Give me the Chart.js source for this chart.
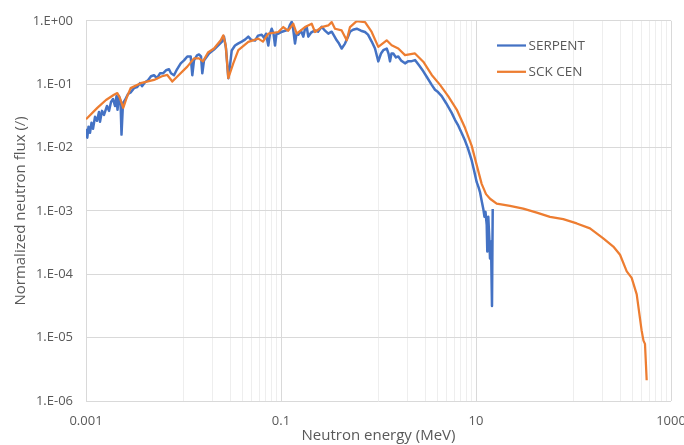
<!DOCTYPE html>
<html>
<head>
<meta charset="utf-8">
<title>Neutron flux spectrum</title>
<script src="https://cdn.jsdelivr.net/npm/chart.js@4.4.1/dist/chart.umd.min.js"></script>
<style>
  html, body { margin: 0; padding: 0; background: #ffffff; overflow: hidden; }
  #wrap { position: relative; width: 684px; height: 445px; }
</style>
</head>
<body>
<div id="wrap"><canvas id="chart" width="684" height="445"></canvas></div>
<script>
// Neutron energy (MeV) and normalized flux for each code
const serpentEnergy = [
  0.001, 0.001031, 0.001061, 0.001099, 0.001139, 0.00118, 0.001237, 0.001297, 0.001359, 0.001392,
  0.001459, 0.00153, 0.001642, 0.001722, 0.001805, 0.001892, 0.001984, 0.002055, 0.002104, 0.00218,
  0.002259, 0.002313, 0.002396, 0.002512, 0.002697, 0.002894, 0.003107, 0.003336, 0.00358, 0.003753,
  0.004029, 0.004325, 0.004642, 0.004983, 0.005349, 0.005741, 0.006163, 0.006614, 0.0071, 0.00744,
  0.00799, 0.00858, 0.00936, 0.01012, 0.01094, 0.01185, 0.01231, 0.01281, 0.01375, 0.01442,
  0.01512, 0.01559, 0.01623, 0.01826, 0.02055, 0.02259, 0.02483, 0.02603, 0.02729, 0.02881,
  0.03, 0.03122, 0.03375, 0.03622, 0.03954, 0.04274, 0.04619, 0.04923, 0.05412, 0.05809,
  0.06341, 0.06693, 0.07017, 0.07407, 0.07713, 0.08029, 0.08378, 0.0868, 0.08992, 0.09383,
  0.1024, 0.1099, 0.1188, 0.1237, 0.1287, 0.1328, 0.1392, 0.1442, 0.1504, 0.1604,
  0.1693, 0.1763, 0.1835, 0.1905, 0.2031, 0.2233, 0.2396, 0.2615, 0.2827, 0.3056,
  0.3311, 0.3497, 0.3727, 0.3935, 0.4195, 0.4533, 0.4867, 0.5102, 0.5477, 0.5976,
  0.6614, 0.7268, 0.7805, 0.8517, 0.9208, 0.9952, 1.061, 1.12, 1.214, 1.266,
  1.312, 1.359, 1.418, 1.512, 1.596, 1.702, 1.87, 2.007, 2.154, 2.368,
  2.603, 2.881, 3.144, 3.513, 3.798, 4.076, 4.448, 4.924, 5.634, 6.089,
  6.585, 7.185, 7.714, 8.278, 9.034, 9.539, 10.17, 10.61, 10.99, 11.39,
  11.88, 12.22, 12.51, 12.88, 13.06, 13.37, 13.69, 13.92, 14.25, 14.49,
  14.59, 14.84
];
const serpentFlux = [
  0.0198, 0.0143, 0.0213, 0.0171, 0.0246, 0.0198, 0.0305, 0.0264, 0.0365, 0.0255,
  0.0379, 0.0328, 0.0453, 0.0379, 0.0524, 0.0583, 0.0453, 0.0649, 0.0393, 0.0649,
  0.0542, 0.016, 0.0505, 0.0562, 0.0698, 0.075, 0.0866, 0.0898, 0.1037, 0.0931,
  0.1075, 0.1155, 0.1334, 0.1383, 0.1241, 0.1485, 0.1485, 0.1655, 0.1716, 0.1485,
  0.1383, 0.1716, 0.213, 0.237, 0.274, 0.274, 0.1383, 0.237, 0.284, 0.294,
  0.274, 0.1485, 0.237, 0.305, 0.352, 0.407, 0.47, 0.562, 0.365, 0.1241,
  0.198, 0.34, 0.407, 0.437, 0.47, 0.505, 0.562, 0.505, 0.487, 0.583,
  0.604, 0.542, 0.626, 0.407, 0.626, 0.75, 0.626, 0.407, 0.626, 0.626,
  0.673, 0.698, 0.723, 0.866, 0.965, 0.777, 0.437, 0.626, 0.604, 0.698,
  0.562, 0.75, 0.806, 0.562, 0.649, 0.705, 0.673, 0.806, 0.698, 0.626,
  0.673, 0.583, 0.492, 0.437, 0.365, 0.437, 0.562, 0.673, 0.723, 0.75,
  0.698, 0.666, 0.604, 0.47, 0.365, 0.229, 0.305, 0.344, 0.365, 0.305,
  0.229, 0.305, 0.305, 0.264, 0.274, 0.237, 0.213, 0.229, 0.229, 0.24,
  0.198, 0.1596, 0.1286, 0.0975, 0.0815, 0.075, 0.0649, 0.0505, 0.0352, 0.0274,
  0.0221, 0.01655, 0.01286, 0.00965, 0.00626, 0.00437, 0.00284, 0.00237, 0.00198, 0.001486,
  0.001075, 0.000806, 0.000965, 0.000604, 0.000229, 0.000806, 0.000365, 0.000178, 0.000328, 0.0000604,
  0.0000316, 0.001075
];

const sckEnergy = [
  0.001, 0.001306, 0.001603, 0.001937, 0.002094, 0.00223, 0.00241, 0.00263, 0.00287, 0.00364,
  0.00498, 0.00602, 0.00682, 0.00768, 0.00864, 0.01094, 0.01281, 0.01442, 0.01585, 0.01783,
  0.02055, 0.0241, 0.0256, 0.0271, 0.0288, 0.0324, 0.0365, 0.0462, 0.0585, 0.0653,
  0.0741, 0.0938, 0.1056, 0.118, 0.1337, 0.1449, 0.1762, 0.2065, 0.2233, 0.2612,
  0.3055, 0.331, 0.358, 0.419, 0.472, 0.51, 0.597, 0.728, 0.851, 0.995,
  1.213, 1.365, 1.596, 1.871, 2.366, 2.879, 3.516, 4.276, 5.2, 6.34,
  7.71, 9.04, 10.0, 11.43, 12.67, 13.93, 16.3, 22.3, 30.5, 42.0,
  57.4, 78.5, 108, 147.6, 202, 256, 300, 351.6, 395, 445,
  500, 522, 541, 563
];
const sckFlux = [
  0.0279, 0.0422, 0.0562, 0.0681, 0.0723, 0.0604, 0.0422, 0.0627, 0.0866, 0.1037,
  0.1167, 0.1334, 0.1397, 0.1102, 0.1318, 0.189, 0.255, 0.255, 0.229, 0.316,
  0.365, 0.492, 0.589, 0.411, 0.124, 0.213, 0.344, 0.465, 0.523, 0.47,
  0.626, 0.666, 0.797, 0.698, 0.898, 0.626, 0.797, 0.898, 0.666, 0.797,
  0.845, 0.954, 0.75, 0.705, 0.492, 0.797, 0.989, 0.954, 0.666, 0.388,
  0.492, 0.411, 0.365, 0.287, 0.305, 0.226, 0.1397, 0.0975, 0.0643, 0.0397,
  0.0205, 0.01063, 0.00583, 0.00267, 0.00184, 0.001556, 0.0013, 0.001197, 0.001086, 0.00094,
  0.000806, 0.000742, 0.000634, 0.000529, 0.000369, 0.000274, 0.000203, 0.000111, 0.0000875, 0.0000482,
  0.0000129, 0.00000897, 0.00000797, 0.00000213
];

const seriesNames = ['SERPENT', 'SCK CEN'];
const seriesColors = ['#4472C4', '#ED7D31'];

// Labelled energy ticks (every second decade) and flux ticks
const xMajorValues = [0.001, 0.1, 10, 1000];
const xTickLabels = ['0.001', '0.1', '10', '1000'];
const yTickValues = [1e-6, 1e-5, 1e-4, 1e-3, 1e-2, 1e-1, 1];
const yTickLabels = ['1.E-06', '1.E-05', '1.E-04', '1.E-03', '1.E-02', '1.E-01', '1.E+00'];

const sameValue = (a, b) => Math.abs(Math.log10(a) - Math.log10(b)) < 1e-6;

// Vertical grid: major lines at the labelled values, minor lines at 1..9 x 10^n in between
const xGridValues = [];
xMajorValues.forEach((m, i) => {
  xGridValues.push(m);
  if (i < xMajorValues.length - 1) {
    for (let k = 1; k <= 9; k++) xGridValues.push(Number((m * 10 * k).toPrecision(6)));
  }
});

const toPoints = (xs, ys) => xs.map((x, i) => ({ x: x, y: ys[i] }));

const FONT = '"Open Sans", "Noto Sans", sans-serif';
const TEXT = '#595959';

// Legend drawn inside the plot area, upper right
const insideLegend = {
  id: 'insideLegend',
  afterDatasetsDraw(chart) {
    const { ctx, chartArea } = chart;
    const x0 = chartArea.left + 411;
    const y0 = chartArea.top + 24.7;
    const gap = 26.3;
    ctx.save();
    ctx.font = '13.5px ' + FONT;
    ctx.textBaseline = 'middle';
    ctx.textAlign = 'left';
    seriesNames.forEach((name, i) => {
      const y = y0 + i * gap;
      ctx.strokeStyle = seriesColors[i];
      ctx.lineWidth = 2.25;
      ctx.beginPath();
      ctx.moveTo(x0, y);
      ctx.lineTo(x0 + 29, y);
      ctx.stroke();
      ctx.fillStyle = TEXT;
      ctx.fillText(name, x0 + 31.5, y + 0.5);
    });
    ctx.restore();
  }
};

Chart.defaults.font.family = FONT;

new Chart(document.getElementById('chart'), {
  type: 'scatter',
  data: {
    datasets: [
      {
        label: seriesNames[0],
        data: toPoints(serpentEnergy, serpentFlux),
        showLine: true,
        borderColor: seriesColors[0],
        backgroundColor: seriesColors[0],
        borderWidth: 2.5,
        borderJoinStyle: 'round',
        pointRadius: 0,
        tension: 0,
        order: 2
      },
      {
        label: seriesNames[1],
        data: toPoints(sckEnergy, sckFlux),
        showLine: true,
        borderColor: seriesColors[1],
        backgroundColor: seriesColors[1],
        borderWidth: 2.25,
        borderJoinStyle: 'round',
        pointRadius: 0,
        tension: 0,
        order: 1
      }
    ]
  },
  options: {
    responsive: false,
    animation: false,
    devicePixelRatio: 1,
    layout: { padding: { left: 0, right: 0, top: 17, bottom: 0 } },
    plugins: {
      legend: { display: false },
      tooltip: { enabled: false }
    },
    scales: {
      x: {
        type: 'logarithmic',
        min: 0.001,
        max: 1000,
        afterBuildTicks: (s) => { s.ticks = xGridValues.map(v => ({ value: v })); },
        afterFit: (s) => { s.height = 44; s.paddingRight = 13; s.paddingLeft = 0; },
        ticks: {
          autoSkip: false,
          maxRotation: 0,
          minRotation: 0,
          padding: 12,
          color: TEXT,
          font: { size: 13 },
          callback: (v) => {
            const i = xMajorValues.findIndex(m => sameValue(m, v));
            return i >= 0 ? xTickLabels[i] : '';
          }
        },
        grid: {
          drawTicks: false,
          lineWidth: 1,
          color: (ctx) => (ctx.tick && xMajorValues.some(m => sameValue(m, ctx.tick.value))) ? '#d9d9d9' : '#eeeeee'
        },
        border: { display: false },
        title: {
          display: true,
          text: 'Neutron energy (MeV)',
          color: TEXT,
          font: { size: 15 },
          padding: { top: 0, bottom: 0 }
        }
      },
      y: {
        type: 'logarithmic',
        min: 1e-6,
        max: 1,
        afterBuildTicks: (s) => { s.ticks = yTickValues.map(v => ({ value: v })); },
        afterFit: (s) => { s.width = 86; },
        ticks: {
          autoSkip: false,
          padding: 13,
          color: TEXT,
          font: { size: 13 },
          callback: (v) => {
            const i = yTickValues.findIndex(m => sameValue(m, v));
            return i >= 0 ? yTickLabels[i] : '';
          }
        },
        grid: {
          drawTicks: false,
          lineWidth: 1,
          color: '#d9d9d9'
        },
        border: { display: false },
        title: {
          display: true,
          text: 'Normalized neutron flux (/)',
          color: TEXT,
          font: { size: 15 },
          padding: { top: 12, bottom: 0 }
        }
      }
    }
  },
  plugins: [insideLegend]
});
</script>
</body>
</html>
